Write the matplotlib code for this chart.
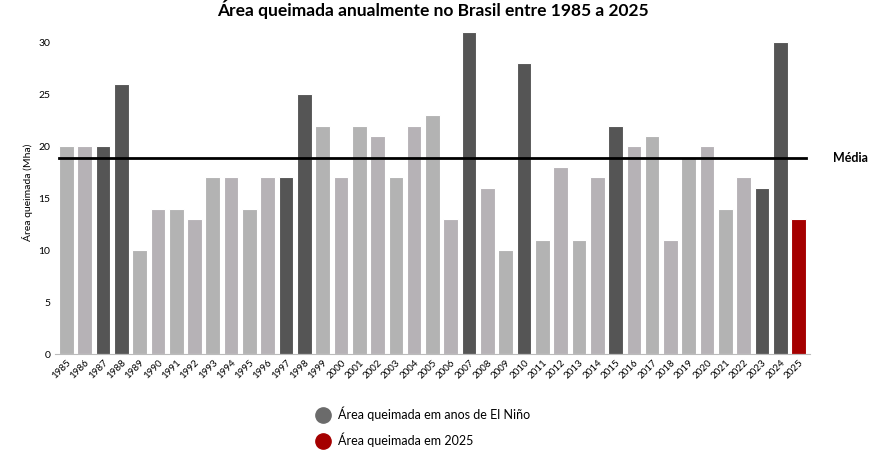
import matplotlib
matplotlib.use("Agg")
import matplotlib.pyplot as plt
from matplotlib.lines import Line2D

years = list(range(1985, 2026))
area = [20, 20, 20, 26, 10, 14, 14, 13, 17, 17, 14, 17, 17, 25, 22, 17, 22, 21, 17, 22,
        23, 13, 31, 16, 10, 28, 11, 18, 11, 17, 22, 20, 21, 11, 19, 20, 14, 17, 16, 30, 13]
el_nino = {1987, 1988, 1997, 1998, 2007, 2010, 2015, 2023, 2024}
media = 18.85

plt.rcParams["font.family"] = ["Lato", "DejaVu Sans"]

colors = []
for y in years:
    if y == 2025:
        colors.append("#a50000")
    elif y in el_nino:
        colors.append("#555555")
    elif y % 2:
        colors.append("#b3b3b3")
    else:
        colors.append("#b6b2b6")

fig = plt.figure(figsize=(8.79, 4.54), dpi=100)
ax = fig.add_axes([0.063, 0.22, 0.858, 0.714])
ax.bar(range(len(years)), area, width=0.8, color=colors, edgecolor="white", linewidth=0.8)
ax.plot([-0.4, len(years) - 0.6], [media, media], color="black", lw=2, clip_on=False)
ax.text(len(years) + 0.9, media, "Média", fontsize=9, fontweight="bold", va="center")

ax.set_xlim(-0.6, len(years) - 0.4)
ax.set_ylim(0, 31.2)
ax.set_yticks([0, 5, 10, 15, 20, 25, 30])
ax.set_xticks(range(len(years)))
ax.set_xticklabels(years, rotation=45, ha="right", rotation_mode="anchor", fontsize=7)
ax.tick_params(axis="y", labelsize=7.5, length=0)
ax.tick_params(axis="x", length=0, pad=3)
for s in ["top", "right", "left"]:
    ax.spines[s].set_visible(False)
ax.spines["bottom"].set_color("#bbbbbb")
ax.set_ylabel("Área queimada (Mha)", fontsize=7.5)
ax.set_title("Área queimada anualmente no Brasil entre 1985 a 2025", fontsize=12.5,
             fontweight="bold", pad=10)

handles = [Line2D([], [], marker="o", ls="", color="#6b6b6b", markersize=11),
           Line2D([], [], marker="o", ls="", color="#a50000", markersize=11)]
fig.legend(handles, ["Área queimada em anos de El Niño", "Área queimada em 2025"],
           loc="center left", bbox_to_anchor=(0.34, 0.06), frameon=False,
           fontsize=9, handletextpad=0.2, labelspacing=0.9)

fig.savefig("out.png", dpi=100)
